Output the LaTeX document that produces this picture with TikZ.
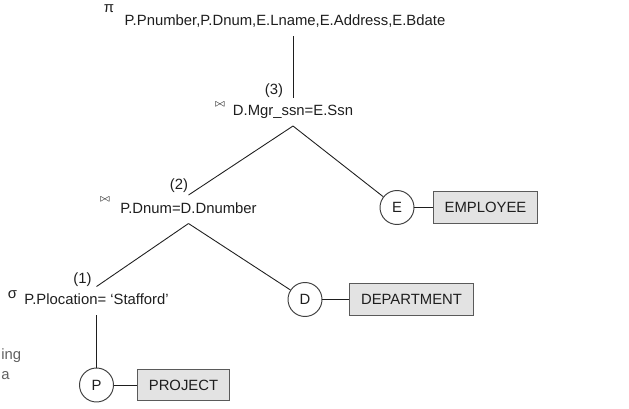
\documentclass[tikz,border=0pt]{standalone}
\usepackage{fontspec}
\setmainfont{Liberation Sans}
\definecolor{ink}{HTML}{1E1E1E}
\definecolor{relfill}{HTML}{E3E3E3}
\definecolor{reldraw}{HTML}{5A5A5A}
\definecolor{cutgray}{HTML}{606060}

\begin{document}
\begin{tikzpicture}[
    font=\fontsize{8.45}{10.2}\selectfont,
    cond/.style={
      anchor=base, text=ink, inner xsep=1pt, inner ysep=3pt,
      text height=0.73em, text depth=0.25em
    },
    op/.style={text=ink, inner sep=0pt},
    num/.style={anchor=base, text=ink, inner sep=0pt},
    rel/.style={circle, draw=ink!85, line width=0.55pt, minimum size=6.8mm, inner sep=0pt, text=ink},
    tbl/.style={draw=reldraw, fill=relfill, line width=0.55pt, minimum height=6.3mm, inner xsep=6.5pt, text=ink},
    edge/.style={draw=ink, line width=0.5pt},
    cut/.style={anchor=base west, text=cutgray, inner sep=0pt}
  ]
    \useasboundingbox (0,0) rectangle (12.58,-8.18);

    % --- projection ---
    \node[op]   (pi)   at (2.18,-0.17) {π};
    \node[cond] (proj) at (5.70,-0.52) {P.Pnumber,P.Dnum,E.Lname,E.Address,E.Bdate};

    % --- joins ---
    \node[num]  (n3)   at (5.48,-1.89) {(3)};
    \node[op]   (bow3) at (4.40,-2.08) {\tiny$\bowtie$};
    \node[cond] (j3)   at (5.86,-2.32) {D.Mgr\_ssn=E.Ssn};

    \node[num]  (n2)   at (3.58,-3.79) {(2)};
    \node[op]   (bow2) at (2.10,-3.99) {\tiny$\bowtie$};
    \node[cond] (j2)   at (3.77,-4.27) {P.Dnum=D.Dnumber};

    % --- selection ---
    \node[num]  (n1)   at (1.65,-5.68) {(1)};
    \node[op]   (sig)  at (0.25,-5.90) {σ};
    \node[cond] (sel)  at (1.93,-6.10) {P.Plocation= ‘Stafford’};

    % --- relations ---
    \node[rel] (E)   at (7.94,-4.15) {E};
    \node[tbl] (emp) at (9.71,-4.15) {EMPLOYEE};
    \node[rel] (D)   at (6.10,-5.99) {D};
    \node[tbl] (dep) at (8.23,-5.99) {DEPARTMENT};
    \node[rel] (P)   at (1.93,-7.70) {P};
    \node[tbl] (prj) at (3.67,-7.70) {PROJECT};

    % --- cut-off text at the left edge ---
    \node[cut] (frag1) at (0.02,-7.20) {ing};
    \node[cut] (frag2) at (0.02,-7.60) {a};

    % --- tree edges ---
    \draw[edge] (j3.north |- proj.south) -- (j3.north);
    \draw[edge] (j3.south) -- (j2.north);
    \draw[edge] (j3.south) -- (E);
    \draw[edge] (j2.south) -- (sel.north);
    \draw[edge] (j2.south) -- (D);
    \draw[edge] (sel.south) -- (P);
    \draw[edge] (E) -- (emp);
    \draw[edge] (D) -- (dep);
    \draw[edge] (P) -- (prj);
  \end{tikzpicture}
\end{document}
